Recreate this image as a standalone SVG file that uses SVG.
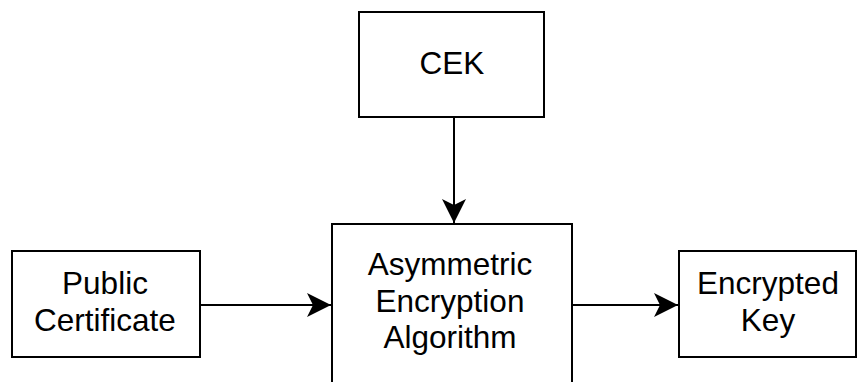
<svg xmlns="http://www.w3.org/2000/svg" width="857" height="382" viewBox="0 0 857 382">
<style>
.box{fill:#fff;stroke:#000;stroke-width:2}
.lbl{font-family:"Liberation Sans",Arial,sans-serif;font-size:31.5px;fill:#000;text-anchor:middle}
.edge{stroke:#000;stroke-width:2;fill:none}
</style>
<defs>
<marker id="arr" markerUnits="userSpaceOnUse" markerWidth="26" markerHeight="26" viewBox="0 0 26 26" refX="24" refY="13" orient="auto">
<path d="M0,1 L24,13 L0,25 L6,13 Z" fill="#000"/>
</marker>
</defs>
<rect width="857" height="382" fill="#fff"/>
<g id="connectors">
<line class="edge" x1="454" y1="117" x2="454" y2="223" marker-end="url(#arr)"/>
<line class="edge" x1="200" y1="305" x2="331" y2="305" marker-end="url(#arr)"/>
<line class="edge" x1="572" y1="305" x2="678" y2="305" marker-end="url(#arr)"/>
</g>
<g id="cek">
<rect class="box" x="359" y="12" width="185" height="105"/>
<text class="lbl" x="452" y="74">CEK</text>
</g>
<g id="public-certificate">
<rect class="box" x="12" y="251" width="188" height="106"/>
<text class="lbl" x="105" y="294">Public</text>
<text class="lbl" x="105" y="331">Certificate</text>
</g>
<g id="algorithm">
<rect class="box" x="332" y="224" width="240" height="180"/>
<text class="lbl" x="450" y="275">Asymmetric</text>
<text class="lbl" x="450" y="312">Encryption</text>
<text class="lbl" x="450" y="348">Algorithm</text>
</g>
<g id="encrypted-key">
<rect class="box" x="679" y="251" width="177" height="106"/>
<text class="lbl" x="768" y="294">Encrypted</text>
<text class="lbl" x="768" y="331">Key</text>
</g>
</svg>
